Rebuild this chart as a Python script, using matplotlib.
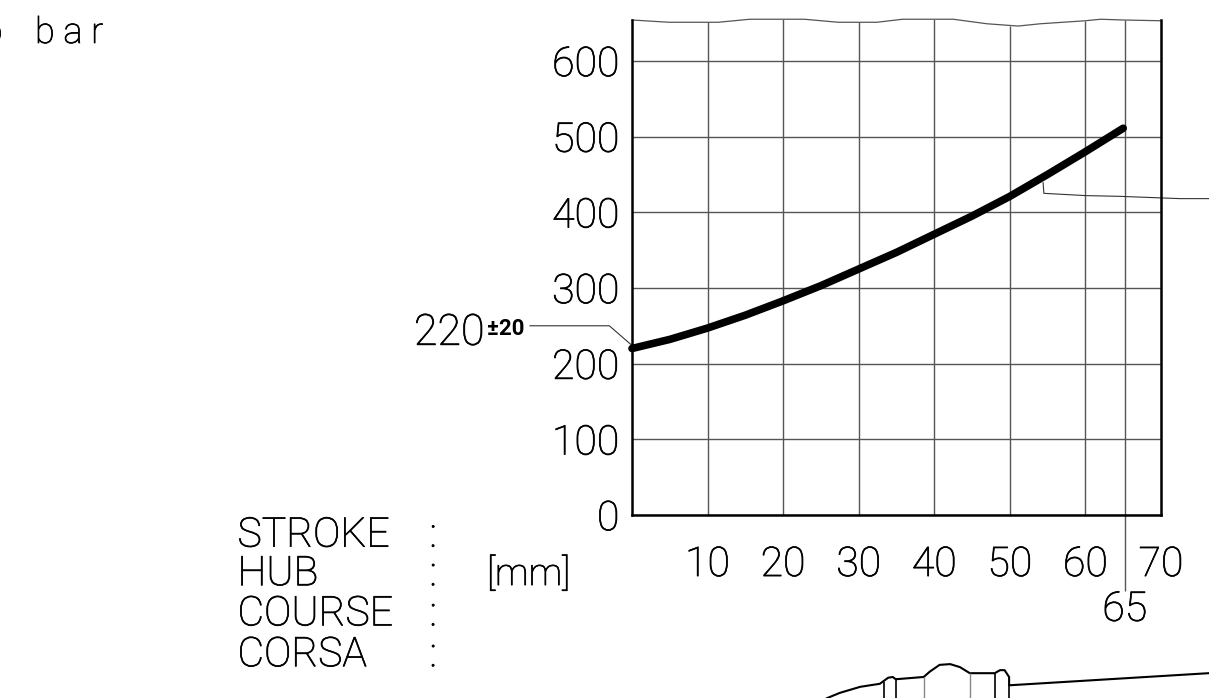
import matplotlib
matplotlib.use("Agg")
import matplotlib.pyplot as plt
import matplotlib.patheffects as pe

# curve
stroke = [0, 5, 10, 15, 20, 25, 30, 35, 40, 45, 50, 55, 60, 65]
force = [220, 232, 247, 264, 283, 303, 325, 347, 371, 395, 421, 450, 480, 511]

x_ticks = [10, 20, 30, 40, 50, 60, 70]
y_ticks = [0, 100, 200, 300, 400, 500, 600]

# wavy top edge of the grid (break line)
top_x = [0, 4.9, 11.4, 15.6, 22.8, 27.3, 32.4, 35.8, 42.5, 47, 51.1, 54, 60, 62, 65, 70]
top_y = [654, 651, 651, 655, 655, 651, 651, 655, 655, 649, 646, 649, 653, 655, 654, 653]

# vertical grid lines and how high they reach
vline_x = [10, 20, 30, 40, 50, 60, 65.2]
vline_top = [651, 655, 651, 655, 646, 653, 654]

# leaders
lead_220_x = [-13.5, -3, 0]
lead_220_y = [250, 250, 224]
lead_right_x = [54.4, 54.5, 60, 64.6, 72.5, 76.3]
lead_right_y = [439, 425, 422, 421, 418, 418]

# hub outline below the chart
hub_x = [25.8, 27.5, 30.2, 32.8, 33.9, 34.5, 34.9, 38.6, 39.4, 40.7, 42.1, 43.4, 44.7, 48.0, 48.7, 49.3, 49.9, 49.9, 76.3]
hub_y = [-242, -235, -227, -223, -215, -214, -217, -214, -207, -198, -197, -201, -209, -209, -205, -205, -214, -225, -209]
hub_dark_x = [33.3, 34.9, 48.0, 49.9]
hub_dark_top = [-221, -216, -209, -225]
hub_gray_x = [38.6, 44.7]
hub_gray_top = [-214, -209]
hub_bottom = -242

labels = ["STROKE", "HUB", "COURSE", "CORSA"]

plt.rcParams["font.family"] = "Roboto"
plt.rcParams["font.weight"] = "light"

# the light face alone is thinner than the drawing's lettering
thick = [pe.withStroke(linewidth=0.5, foreground="black")]

fig = plt.figure(figsize=(12.09, 6.98), dpi=100)
ax = fig.add_axes([632 / 1209, 1 - 515 / 698, 529 / 1209, 495 / 698])

ax.set_xlim(0, 70)
ax.set_ylim(0, 654)
ax.set_xticks(x_ticks)
ax.set_yticks(y_ticks)
ax.tick_params(length=0, labelsize=29.5, pad=9)
ax.tick_params(axis="x", pad=22)
for t in ax.get_xticklabels() + ax.get_yticklabels():
    t.set_path_effects(thick)
ax.grid(axis="y", color="#555555", lw=1)
ax.set_axisbelow(True)
ax.spines["top"].set_visible(False)
for s in ["left", "right", "bottom"]:
    ax.spines[s].set_linewidth(1.8)

ax.vlines(vline_x, 0, vline_top, color="#555555", lw=1)
ax.vlines(65.2, -100, 0, color="#555555", lw=1, clip_on=False)
ax.plot(top_x, top_y, color="#555555", lw=0.9, clip_on=False)

ax.plot(stroke, force, color="black", lw=5.5, solid_capstyle="round", solid_joinstyle="round", clip_on=False, zorder=5)

ax.plot(lead_220_x, lead_220_y, color="#333333", lw=0.8, clip_on=False)
ax.plot(lead_right_x, lead_right_y, color="#333333", lw=0.8, clip_on=False)

ax.text(-19.5, 240, "220", fontsize=31, ha="right", va="center", path_effects=thick)
ax.text(-19.2, 246, "±20", fontsize=16, fontweight="bold", ha="left", va="center")
ax.text(65.2, -125, "65", fontsize=29.5, ha="center", va="center", path_effects=thick)

# text block left of the x axis
ys = [-27, -78, -131, -185]
for name, y in zip(labels, ys):
    ax.text(-52.2, y, name, fontsize=29.5, ha="left", va="center", clip_on=False, path_effects=thick)
    ax.text(-26.3, y, ":", fontsize=29.5, ha="center", va="center", clip_on=False, path_effects=thick)
ax.text(-19.2, -78, "[mm]", fontsize=27, ha="left", va="center", path_effects=thick)

ax.plot(hub_x, hub_y, color="black", lw=1.5, clip_on=False)
ax.vlines(hub_dark_x, hub_bottom, hub_dark_top, color="black", lw=1.2, clip_on=False)
ax.vlines(hub_gray_x, hub_bottom, hub_gray_top, color="#888888", lw=1, clip_on=False)

fig.text(35 / 1209, 1 - 33 / 698, "b a r", fontsize=26, ha="left", va="center", path_effects=thick)
fig.text(-17 / 1209, 1 - 33 / 698, "p", fontsize=26, ha="left", va="center", path_effects=thick)

fig.savefig("out.png", dpi=100)
